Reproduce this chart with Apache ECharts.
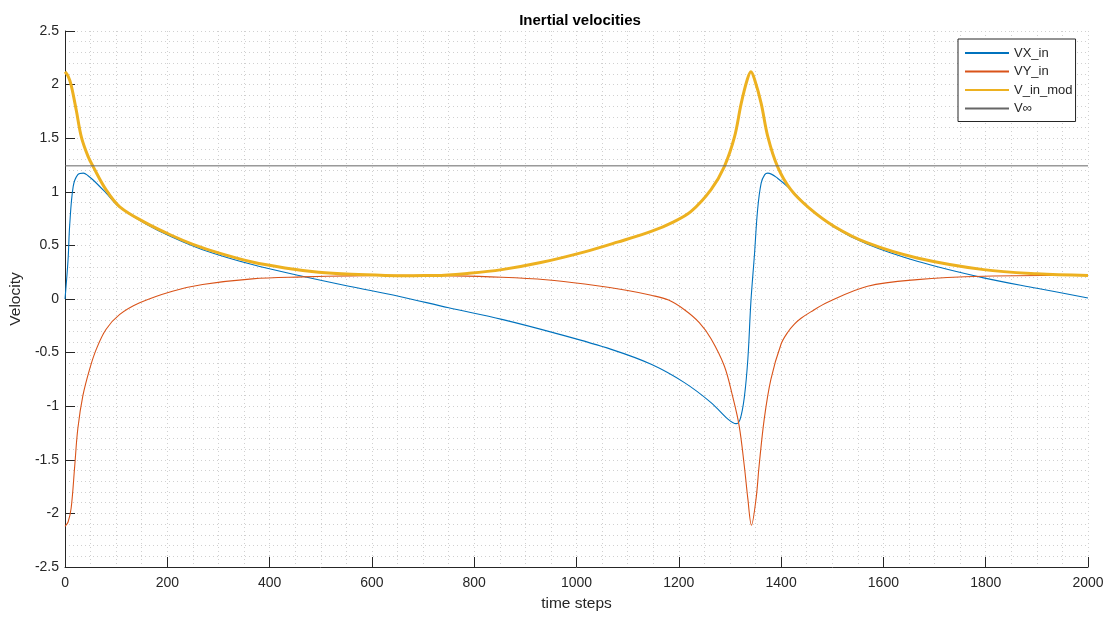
<!DOCTYPE html>
<html>
<head>
<meta charset="utf-8">
<script src="https://cdn.jsdelivr.net/npm/echarts@6/dist/echarts.min.js"></script>
<style>
html,body{margin:0;padding:0;background:#fff;}
#chart{width:1107px;height:617px;}
</style>
</head>
<body>
<div id="chart"></div>
<script>
// [time step, value] pairs
var vxIn = [[0,0],[6,0.37],[9,0.68],[16,1.05],[25,1.16],[36,1.174],[45,1.15],[55,1.11],[80,0.99],[107,0.855],[158,0.70],[210,0.575],[269,0.46],[366,0.321],[464,0.212],[555,0.119],[652,0.026],[750,-0.082],[854,-0.19],[967,-0.33],[1068,-0.47],[1146,-0.609],[1211,-0.78],[1263,-0.966],[1296,-1.12],[1312,-1.163],[1320,-1.12],[1328,-0.92],[1335,-0.56],[1341,-0.02],[1348,0.42],[1354,0.83],[1361,1.08],[1368,1.16],[1374,1.174],[1393,1.127],[1419,1.02],[1452,0.863],[1504,0.67],[1569,0.51],[1666,0.352],[1796,0.197],[1900,0.10],[2000,0.01]];
var vyIn = [[0,-2.12],[6,-2.08],[12,-1.95],[19,-1.555],[25,-1.21],[35,-0.90],[48,-0.656],[61,-0.47],[80,-0.284],[107,-0.144],[146,-0.035],[210,0.073],[269,0.135],[366,0.188],[464,0.206],[560,0.216],[660,0.22],[760,0.216],[854,0.203],[940,0.18],[1016,0.14],[1100,0.08],[1146,0.035],[1180,-0.01],[1211,-0.1],[1240,-0.22],[1263,-0.37],[1289,-0.625],[1305,-0.904],[1318,-1.183],[1328,-1.555],[1335,-1.865],[1342,-2.11],[1351,-1.865],[1357,-1.555],[1367,-1.12],[1380,-0.749],[1400,-0.42],[1413,-0.31],[1426,-0.235],[1439,-0.18],[1458,-0.12],[1491,-0.03],[1569,0.119],[1666,0.181],[1796,0.212],[2000,0.221]];
var vInMod = [[0,2.12],[6,2.08],[12,1.995],[22,1.76],[32,1.51],[45,1.33],[55,1.235],[80,1.02],[107,0.86],[158,0.71],[210,0.59],[250,0.51],[300,0.43],[366,0.345],[430,0.29],[496,0.25],[560,0.23],[626,0.22],[680,0.218],[724,0.219],[790,0.24],[854,0.274],[930,0.34],[1016,0.44],[1080,0.53],[1146,0.63],[1190,0.72],[1224,0.817],[1263,1.02],[1289,1.235],[1309,1.514],[1322,1.825],[1334,2.05],[1341,2.12],[1348,2.05],[1361,1.825],[1374,1.514],[1393,1.235],[1419,1.02],[1455,0.848],[1504,0.677],[1569,0.523],[1666,0.383],[1796,0.274],[1900,0.235],[2000,0.22]];
var vInf = [[0,1.242],[2000,1.242]];
var seriesNames = ['VX_in','VY_in','V_in_mod','V\u221E'];

var textColor = '#262626';
var fontFam = 'Liberation Sans, Arial, sans-serif';
var gridLine = {show:true, lineStyle:{color:'#d0d0d0', type:[1,3], width:1}};
var chart = echarts.init(document.getElementById('chart'), null, {renderer:'canvas'});
chart.setOption({
  animation:false,
  backgroundColor:'#fff',
  title:{text:'Inertial velocities', left:575, top:8, textAlign:'center',
    textStyle:{fontFamily:fontFam, fontSize:15, fontWeight:'bold', color:'#000'}},
  grid:{left:63, right:19, top:31, bottom:49},
  legend:{orient:'vertical', left:958, top:39, padding:[7,3,6,6], itemWidth:44, itemHeight:14, itemGap:4.5,
    backgroundColor:'#fff', borderColor:'#262626', borderWidth:1,
    itemStyle:{opacity:0},
    textStyle:{fontFamily:fontFam, fontSize:13, color:textColor, lineHeight:14},
    data:seriesNames},
  xAxis:{type:'value', min:0, max:2000, interval:200,
    name:'time steps', nameLocation:'middle', nameGap:29,
    nameTextStyle:{fontFamily:fontFam, fontSize:15.5, color:textColor},
    axisLine:{onZero:false, lineStyle:{color:textColor}},
    axisTick:{inside:true, length:10, lineStyle:{color:textColor}},
    minorTick:{show:false, splitNumber:4},
    axisLabel:{margin:9, fontFamily:fontFam, fontSize:14, color:textColor, formatter:function(v){return String(v);}},
    splitLine:gridLine, minorSplitLine:gridLine},
  yAxis:{type:'value', min:-2.5, max:2.5, interval:0.5,
    name:'Velocity', nameLocation:'middle', nameGap:35, nameRotate:90,
    nameTextStyle:{fontFamily:fontFam, fontSize:15.5, color:textColor},
    axisLine:{show:true, onZero:false, lineStyle:{color:textColor}},
    axisTick:{show:true, inside:true, length:10, lineStyle:{color:textColor}},
    minorTick:{show:false, splitNumber:5},
    axisLabel:{margin:6, fontFamily:fontFam, fontSize:14, color:textColor, formatter:function(v){return String(v);}},
    splitLine:gridLine, minorSplitLine:gridLine},
  series:[
    {name:seriesNames[0], type:'line', data:vxIn, symbol:'none', smooth:0.35,
      lineStyle:{color:'#0072BD', width:1.1}, itemStyle:{color:'#0072BD'}},
    {name:seriesNames[1], type:'line', data:vyIn, symbol:'none', smooth:0.35,
      lineStyle:{color:'#D95319', width:1.1}, itemStyle:{color:'#D95319'}},
    {name:seriesNames[2], type:'line', data:vInMod, symbol:'none', smooth:0.35,
      lineStyle:{color:'#EDB120', width:3}, itemStyle:{color:'#EDB120'}},
    {name:seriesNames[3], type:'line', data:vInf, symbol:'none',
      lineStyle:{color:'#666666', width:1}, itemStyle:{color:'#666666'}}
  ]
});
</script>
</body>
</html>
